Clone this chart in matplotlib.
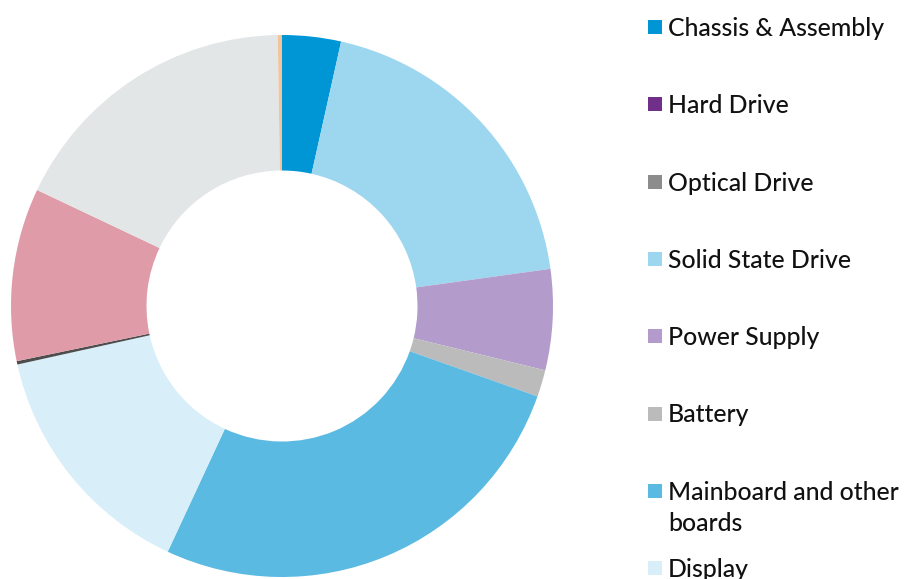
import matplotlib
matplotlib.use("Agg")
import matplotlib.pyplot as plt
from matplotlib.patches import Rectangle

labels = ["Chassis & Assembly", "Hard Drive", "Optical Drive", "Solid State Drive",
          "Power Supply", "Battery", "Mainboard and other\nboards", "Display",
          "Other", "Transport", "Use", "End of Life"]
values = [3.5, 0.0, 0.0, 19.3, 6.0, 1.6, 26.5, 14.6, 0.2, 10.3, 17.7, 0.25]
colors = ["#0096D6", "#702F8A", "#8C8C8C", "#9DD6EF", "#B39BCB", "#BBBBBB",
          "#5BBAE2", "#D8EEF9", "#4D4D4D", "#E09BA8", "#E2E6E7", "#F2C49B"]

W, H = 916, 579
fig = plt.figure(figsize=(W / 100, H / 100), dpi=100)
cx, cy, r = 282, 306, 271
ax = fig.add_axes([(cx - r) / W, (H - cy - r) / H, 2 * r / W, 2 * r / H])
ax.pie(values, colors=colors, startangle=90, counterclock=False,
       wedgeprops=dict(width=0.5, linewidth=0))
ax.set_xlim(-1, 1)
ax.set_ylim(-1, 1)
ax.set_aspect("equal")
ax.axis("off")

# legend drawn manually, entries continue below the visible canvas
y0, dy = 27, 77.3
for i, (lab, col) in enumerate(zip(labels, colors)):
    yc = y0 + dy * i
    fig.patches.append(Rectangle((648 / W, 1 - (yc + 7) / H), 14 / W, 14 / H,
                                 transform=fig.transFigure, facecolor=col,
                                 edgecolor="none"))
    fig.text(668 / W, 1 - (yc - 10) / H, lab, fontsize=17.8, family="Lato",
             weight="medium", color="#111111", va="top", ha="left",
             linespacing=1.42)

fig.savefig("out.png", dpi=100)
